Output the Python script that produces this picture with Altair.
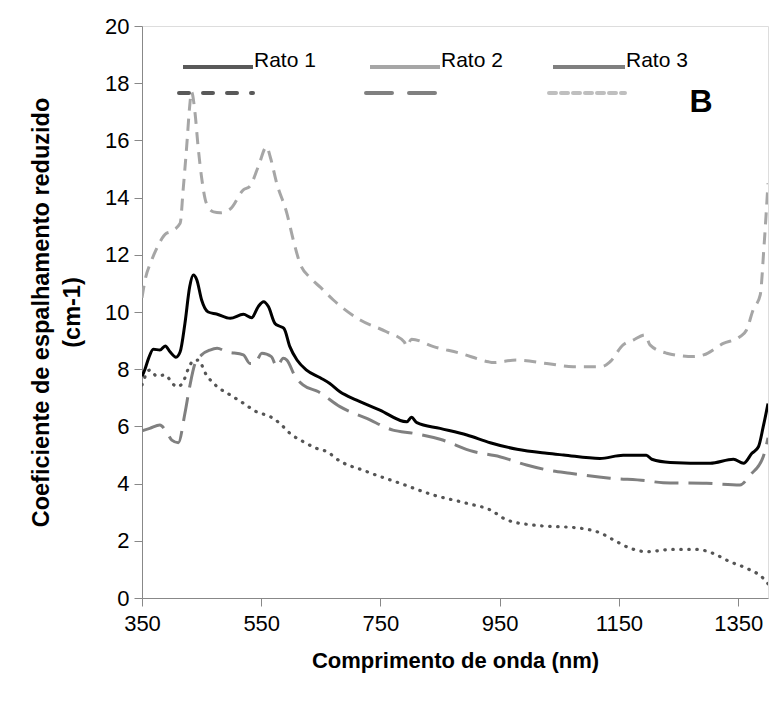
import altair as alt
import pandas as pd

# ---- data ----
solid_nm = [350, 355, 361, 369, 380, 389, 397, 407, 414, 422, 430, 436, 442, 450, 461, 475, 498, 520, 534, 545, 554, 562, 573, 581, 588, 598, 610, 626, 649, 665, 682, 710, 749, 794, 802, 811, 850, 895, 934, 979, 1029, 1057, 1118, 1157, 1196, 1205, 1236, 1303, 1342, 1359, 1373, 1384, 1392, 1400]
solid_val = [7.75, 8.0, 8.38, 8.7, 8.67, 8.81, 8.61, 8.42, 8.61, 9.6, 10.88, 11.29, 11.12, 10.42, 10.0, 9.93, 9.78, 9.92, 9.8, 10.19, 10.36, 10.19, 9.6, 9.5, 9.43, 8.79, 8.32, 7.97, 7.7, 7.5, 7.21, 6.92, 6.57, 6.16, 6.32, 6.13, 5.93, 5.7, 5.43, 5.2, 5.06, 5.0, 4.88, 4.99, 4.99, 4.85, 4.74, 4.71, 4.85, 4.71, 5.06, 5.29, 5.99, 6.8]

light_nm = [350, 355, 366, 372, 391, 397, 414, 419, 425, 430, 433, 439, 444, 450, 458, 470, 481, 498, 520, 531, 545, 559, 565, 576, 593, 604, 615, 632, 650, 671, 716, 760, 790, 794, 802, 839, 883, 931, 939, 978, 1029, 1073, 1121, 1135, 1157, 1174, 1194, 1202, 1230, 1275, 1292, 1325, 1353, 1364, 1375, 1387, 1393, 1400]
light_val = [10.5, 11.1, 11.8, 12.1, 12.75, 12.8, 13.1, 14.27, 15.8, 17.2, 17.7, 16.95, 15.8, 14.7, 13.8, 13.5, 13.47, 13.6, 14.27, 14.4, 15.08, 15.78, 15.43, 14.5, 13.45, 12.5, 11.7, 11.2, 10.85, 10.42, 9.72, 9.31, 8.95, 8.8, 9.05, 8.79, 8.56, 8.26, 8.23, 8.32, 8.2, 8.09, 8.09, 8.26, 8.85, 9.02, 9.2, 8.85, 8.56, 8.44, 8.5, 8.9, 9.14, 9.37, 10.07, 10.6, 12.2, 14.5]

long_nm = [350, 363, 380, 391, 400, 411, 422, 430, 439, 450, 464, 476, 492, 520, 531, 539, 551, 567, 576, 587, 593, 607, 620, 646, 682, 727, 771, 805, 850, 906, 950, 995, 1029, 1068, 1135, 1196, 1224, 1297, 1353, 1370, 1392, 1400]
long_val = [5.85, 5.93, 6.05, 5.81, 5.52, 5.43, 6.46, 7.39, 8.2, 8.5, 8.67, 8.73, 8.61, 8.5, 8.2, 8.2, 8.56, 8.44, 8.09, 8.38, 8.32, 7.74, 7.45, 7.21, 6.69, 6.28, 5.87, 5.76, 5.55, 5.12, 4.94, 4.65, 4.48, 4.36, 4.19, 4.1, 4.03, 4.01, 3.95, 4.3, 4.94, 5.6]

dot_nm = [350, 363, 375, 389, 400, 408, 417, 428, 436, 444, 458, 475, 498, 520, 542, 565, 581, 598, 620, 643, 665, 671, 727, 783, 839, 895, 934, 962, 1006, 1085, 1118, 1141, 1169, 1196, 1241, 1280, 1308, 1336, 1364, 1392, 1400]
dot_val = [7.45, 7.97, 7.76, 7.8, 7.53, 7.39, 7.48, 8.03, 8.3, 8.32, 7.8, 7.41, 7.1, 6.81, 6.51, 6.34, 6.11, 5.76, 5.47, 5.23, 5.06, 4.95, 4.42, 4.01, 3.6, 3.31, 3.08, 2.73, 2.55, 2.44, 2.28, 2.03, 1.74, 1.62, 1.7, 1.7, 1.56, 1.27, 1.04, 0.69, 0.5]

x_ticks = [350, 550, 750, 950, 1150, 1350]
y_ticks = [0, 2, 4, 6, 8, 10, 12, 14, 16, 18, 20]
legend_labels = ["Rato 1", "Rato 2", "Rato 3"]

FONT = "Liberation Sans"
AXC = "#868686"

xs = alt.Scale(domain=[350, 1400], nice=False, zero=False)
ys = alt.Scale(domain=[0, 20], nice=False)

x_enc = alt.X("nm:Q", scale=xs,
              axis=alt.Axis(values=x_ticks, format="d", title="Comprimento de onda (nm)", grid=False,
                            labelFontSize=22, labelPadding=7, titleFontSize=22, titleFontWeight="bold",
                            titlePadding=16, tickSize=8, labelFlush=False))
y_enc = alt.Y("v:Q", scale=ys,
              axis=alt.Axis(values=y_ticks, format="d", title=["Coeficiente de espalhamento reduzido", "(cm-1)"],
                            grid=False, labelFontSize=22, labelPadding=5, titleFontSize=23.5,
                            titleFontWeight="bold", titlePadding=20, titleLineHeight=31,
                            tickSize=8, labelFlush=False))


def series(nm, val, color, dash, width=3, cap="butt"):
    df = pd.DataFrame({"nm": nm, "v": val})
    kw = dict(color=color, strokeWidth=width, interpolate="monotone", strokeCap=cap, clip=True)
    if dash:
        kw["strokeDash"] = dash
    return alt.Chart(df).mark_line(**kw).encode(x=x_enc, y=y_enc)


l_dot = series(dot_nm, dot_val, "#555555", [0.5, 7.5], width=3.2, cap="round")
l_long = series(long_nm, long_val, "#808080", [24, 10])
l_light = series(light_nm, light_val, "#a6a6a6", [12, 8])
l_solid = series(solid_nm, solid_val, "#000000", None)

one = pd.DataFrame({"a": [0]})

# legend (plot-area pixel offsets)
row1_y, row2_y = 41, 67
leg_x = [(41, 111), (228, 298), (411, 483)]
row1_col = ["#595959", "#a6a6a6", "#7f7f7f"]
row2 = [("#595959", [10, 14], 4), ("#808080", [26, 17], 4), ("#bfbfbf", [7, 5], 4)]

legend_layers = []
for i, lab in enumerate(legend_labels):
    x0, x1 = leg_x[i]
    legend_layers.append(alt.Chart(one).mark_rule(color=row1_col[i], strokeWidth=4).encode(
        x=alt.value(x0), x2=alt.value(x1), y=alt.value(row1_y)))
    c, d, w = row2[i]
    legend_layers.append(alt.Chart(one).mark_rule(color=c, strokeWidth=w, strokeDash=d, strokeCap="round").encode(
        x=alt.value(x0 - 4), x2=alt.value(x1), y=alt.value(row2_y)))
    legend_layers.append(alt.Chart(one).mark_text(text=lab, align="left", baseline="alphabetic",
                                                   font=FONT, fontSize=21, color="#000").encode(
        x=alt.value(x1 + 1), y=alt.value(row1_y)))

b_text = alt.Chart(one).mark_text(text="B", align="center", baseline="alphabetic", font=FONT,
                                  fontSize=32, fontWeight="bold", color="#000").encode(
    x=alt.value(559), y=alt.value(86))

chart = alt.layer(l_dot, l_long, l_light, l_solid, *legend_layers, b_text).properties(
    width=626, height=572,
    autosize=alt.AutoSizeParams(type="none"),
    padding={"left": 142, "top": 26, "right": 5, "bottom": 104},
).configure_view(stroke=AXC, strokeWidth=2).configure_axis(
    domainColor=AXC, domainWidth=2, tickColor=AXC, tickWidth=1.5,
    labelFont=FONT, titleFont=FONT, labelColor="#000", titleColor="#000"
).configure(background="white")

chart.save("out.html", embed_options={"renderer": "svg", "actions": False})
